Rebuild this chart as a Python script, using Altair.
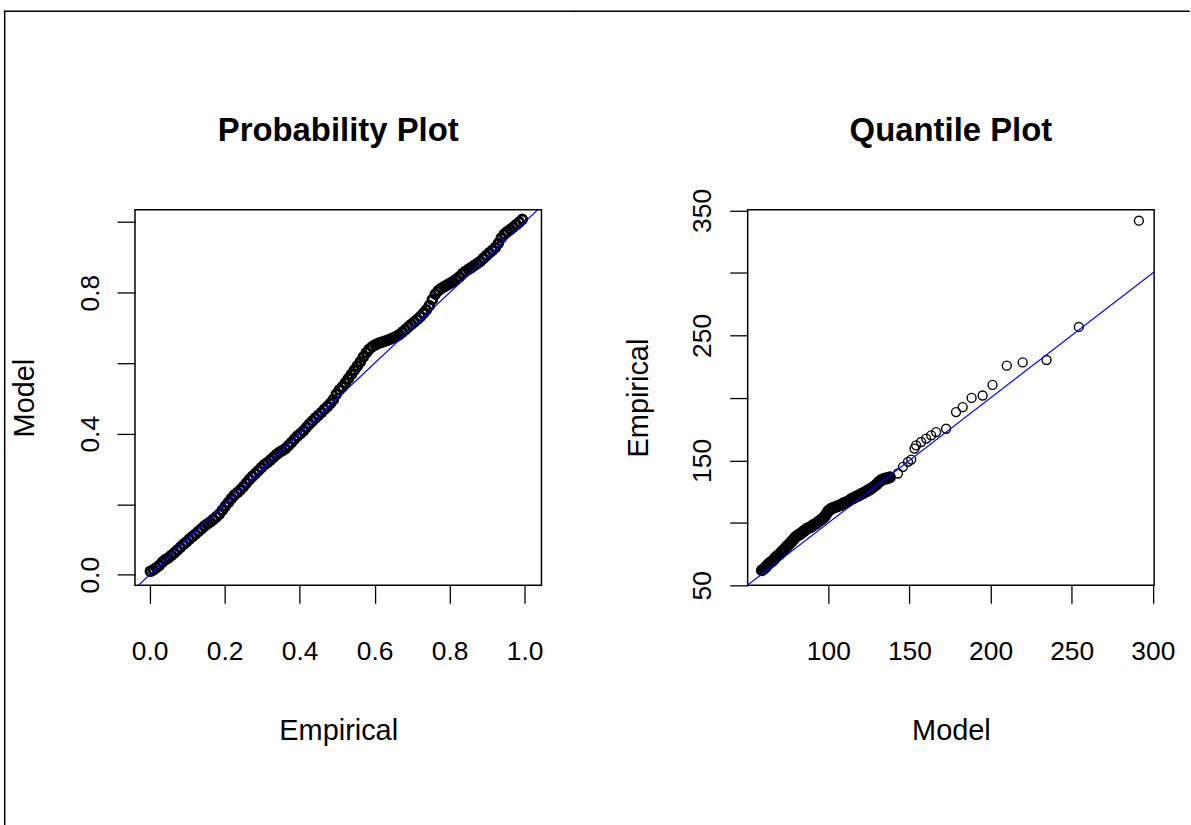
import altair as alt
import pandas as pd

# ---------------- Probability plot (left) ----------------
pp_empirical = [
    0.002, 0.010, 0.018, 0.026, 0.034, 0.042, 0.050, 0.058, 0.066, 0.074,
    0.082, 0.090, 0.098, 0.106, 0.114, 0.122, 0.130, 0.138, 0.146, 0.154,
    0.162, 0.170, 0.178, 0.186, 0.194, 0.202, 0.210, 0.218, 0.226, 0.234,
    0.242, 0.250, 0.258, 0.266, 0.274, 0.282, 0.290, 0.298, 0.306, 0.314,
    0.322, 0.330, 0.338, 0.346, 0.354, 0.362, 0.370, 0.378, 0.386, 0.394,
    0.402, 0.410, 0.418, 0.426, 0.434, 0.442, 0.450, 0.458, 0.466, 0.474,
    0.482, 0.490, 0.498, 0.506, 0.514, 0.522, 0.530, 0.538, 0.546, 0.554,
    0.562, 0.570, 0.578, 0.586, 0.594, 0.602, 0.610, 0.618, 0.626, 0.634,
    0.642, 0.650, 0.658, 0.666, 0.674, 0.682, 0.690, 0.698, 0.706, 0.714,
    0.722, 0.730, 0.738, 0.746, 0.754, 0.762, 0.770, 0.778, 0.786, 0.794,
    0.802, 0.810, 0.818, 0.826, 0.834, 0.842, 0.850, 0.858, 0.866, 0.874,
    0.882, 0.890, 0.898, 0.906, 0.914, 0.922, 0.930, 0.938, 0.946, 0.954,
    0.962, 0.970, 0.978, 0.986, 0.994,
]
pp_model = [
    0.010, 0.014, 0.020, 0.027, 0.036, 0.043, 0.048, 0.055, 0.062, 0.070,
    0.078, 0.086, 0.093, 0.101, 0.108, 0.115, 0.123, 0.130, 0.138, 0.144,
    0.150, 0.157, 0.164, 0.172, 0.183, 0.195, 0.205, 0.216, 0.226, 0.233,
    0.241, 0.250, 0.260, 0.270, 0.279, 0.287, 0.295, 0.304, 0.312, 0.318,
    0.325, 0.333, 0.341, 0.347, 0.352, 0.358, 0.366, 0.375, 0.384, 0.393,
    0.400, 0.408, 0.418, 0.427, 0.436, 0.444, 0.452, 0.460, 0.469, 0.477,
    0.486, 0.497, 0.512, 0.524, 0.533, 0.544, 0.556, 0.568, 0.580, 0.592,
    0.604, 0.618, 0.630, 0.640, 0.647, 0.652, 0.656, 0.659, 0.662, 0.665,
    0.668, 0.672, 0.676, 0.681, 0.688, 0.695, 0.703, 0.710, 0.717, 0.724,
    0.732, 0.741, 0.751, 0.763, 0.780, 0.796, 0.806, 0.812, 0.817, 0.822,
    0.827, 0.832, 0.838, 0.845, 0.853, 0.860, 0.866, 0.871, 0.877, 0.883,
    0.889, 0.897, 0.905, 0.913, 0.920, 0.928, 0.940, 0.955, 0.966, 0.973,
    0.979, 0.986, 0.993, 1.000, 1.008,
]
pp_line = [-0.1, 1.1]
pp_ticks = [0.0, 0.2, 0.4, 0.6, 0.8, 1.0]
pp_y_labelled = [0.0, 0.4, 0.8]

# ---------------- Quantile plot (right) ----------------
qq_model_dense = [
    59, 60, 61, 62, 63, 64, 65, 66, 67, 68, 69, 70, 71, 72, 73, 74, 75, 76, 77, 78,
    79, 80, 81, 82, 83, 84, 85, 86, 87, 88, 89, 90, 91, 92, 93, 94, 95, 96, 97, 98,
    99, 100, 101, 102, 103, 104, 105, 106, 107, 108, 109, 110, 111, 112, 113, 114,
    115, 116, 117, 118, 119, 120, 121, 122, 123, 124, 125, 126, 127, 128, 129, 130,
    131, 132, 133, 134, 135, 136, 137, 138,
]
qq_empirical_dense = [
    62, 63, 64, 65.5, 67, 68, 69, 70, 71.5, 73, 74, 75, 76.5, 78, 79, 80.5, 82, 83, 84.5, 86,
    87.5, 89, 90, 90.5, 91.5, 92.5, 93.5, 94.5, 95.5, 96, 96.5, 97.5, 98.5, 99, 100, 101, 102, 103, 104, 105.5,
    107.5, 109.5, 110.5, 111.5, 112, 112.5, 113, 113.5, 114, 114.5, 115.5, 116, 116.5, 117, 118, 119,
    119.5, 120, 121, 121.5, 122, 123, 123.5, 124, 125, 125.5, 126.5, 127, 128, 129, 130, 131,
    132.5, 133.5, 134.5, 135, 135.5, 135.5, 136, 136.5,
]
qq_model_tail = [
    142.9, 146.0, 149.1, 151.1, 153.1, 154.1, 157.2, 160.3, 163.4, 166.4,
    172.6, 178.7, 182.8, 188.3, 195.1, 201.2, 210.0, 219.8, 234.5, 254.4, 291.4,
]
qq_empirical_tail = [
    139.5, 144.8, 148.8, 150.6, 159.4, 162.0, 164.7, 167.4, 170.0, 172.6,
    175.3, 188.6, 192.6, 200.0, 201.9, 210.4, 225.8, 228.4, 230.3, 256.8, 341.8,
]
qq_line = [0, 400]
qq_x_ticks = [100, 150, 200, 250, 300]
qq_y_ticks = [50, 100, 150, 200, 250, 300, 350]
qq_y_labelled = [50, 150, 250, 350]

titles = ["Probability Plot", "Quantile Plot"]

FONT = "Liberation Sans"
W, H = 408, 377

pp_df = pd.DataFrame({"Empirical": pp_empirical, "Model": pp_model})
pp_line_df = pd.DataFrame({"a": pp_line, "b": pp_line})
qq_dense_df = pd.DataFrame({"Model": qq_model_dense, "Empirical": qq_empirical_dense})
qq_tail_df = pd.DataFrame({"Model": qq_model_tail, "Empirical": qq_empirical_tail})
qq_line_df = pd.DataFrame({"a": qq_line, "b": qq_line})
one = pd.DataFrame({"k": [0]})


def label_expr(vals, fmt):
    cond = " || ".join(f"abs(datum.value - {v}) < 1e-6" for v in vals)
    return f"({cond}) ? format(datum.value, '{fmt}') : ''"


def x_axis(title, ticks, fmt):
    return alt.Axis(
        title=title, values=ticks, format=fmt, domain=False, grid=False,
        tickSize=18, tickWidth=1.3, tickColor="black",
        labelFont=FONT, labelFontSize=26.5, labelColor="black", labelPadding=35,
        labelOverlap=False, labelFlush=False,
        titleFont=FONT, titleFontSize=29, titleFontWeight="normal", titleColor="black",
        titleX=W / 2, titleY=155, titleBaseline="alphabetic", titleAlign="center",
    )


def y_axis(title, ticks, labelled, fmt, title_x):
    return alt.Axis(
        title=title, values=ticks, labelExpr=label_expr(labelled, fmt), domain=False, grid=False,
        tickSize=18, tickWidth=1.3, tickColor="black",
        labelFont=FONT, labelFontSize=26.5, labelColor="black", labelPadding=19,
        labelAngle=270, labelAlign="center", labelBaseline="alphabetic",
        labelOverlap=False, labelFlush=False,
        titleFont=FONT, titleFontSize=29, titleFontWeight="normal", titleColor="black",
        titleAngle=270, titleX=title_x, titleY=H / 2, titleBaseline="alphabetic", titleAlign="center",
    )


def points(df, xcol, ycol, xdom, ydom, xax, yax, sw, size):
    return alt.Chart(df).mark_point(
        shape="circle", filled=False, size=size, stroke="black", strokeWidth=sw, opacity=1
    ).encode(
        x=alt.X(f"{xcol}:Q", scale=alt.Scale(domain=xdom, nice=False, zero=False), axis=xax),
        y=alt.Y(f"{ycol}:Q", scale=alt.Scale(domain=ydom, nice=False, zero=False), axis=yax),
    )


def refline(df):
    return alt.Chart(df).mark_line(color="#0000ff", strokeWidth=1.2, clip=True).encode(
        x="a:Q", y="b:Q"
    )


def hrule(x1, x2, y):
    return alt.Chart(one).mark_rule(color="black", strokeWidth=1.5, strokeCap="square").encode(
        x=alt.value(x1), x2=alt.value(x2), y=alt.value(y)
    )


def vrule(x, y1, y2):
    return alt.Chart(one).mark_rule(color="black", strokeWidth=1.5, strokeCap="square").encode(
        x=alt.value(x), y=alt.value(y1), y2=alt.value(y2)
    )


def title_text(text):
    return alt.Chart(one).mark_text(
        font=FONT, fontSize=33, fontWeight="bold", color="black",
        align="center", baseline="alphabetic",
    ).encode(x=alt.value(W / 2), y=alt.value(-69), text=alt.value(text))


QX = [50.3, 300.8]
QY = [50, 350.5]
q_xax = x_axis("Model", qq_x_ticks, "d")
q_yax = y_axis("Empirical", qq_y_ticks, qq_y_labelled, "d", -101)

left = alt.layer(
    points(pp_df, "Empirical", "Model", [-0.039, 1.045], [-0.030, 1.035],
           x_axis("Empirical", pp_ticks, ".1f"),
           y_axis("Model", pp_ticks, pp_y_labelled, ".1f", -102), 3.0, 76),
    refline(pp_line_df),
    title_text(titles[0]),
    hrule(-130.8, 441, -199.3),
    vrule(-130.8, -199.3, 618),
).properties(width=W, height=H)

right = alt.layer(
    points(qq_dense_df, "Model", "Empirical", QX, QY, q_xax, q_yax, 3.0, 80),
    points(qq_tail_df, "Model", "Empirical", QX, QY, q_xax, q_yax, 1.4, 80),
    refline(qq_line_df),
    title_text(titles[1]),
    hrule(-173.5, 443, -199.3),
).properties(width=W, height=H)

chart = alt.hconcat(left, right, spacing=-4).properties(
    padding={"left": 2.5, "top": 7, "right": 0, "bottom": 0},
    background="white",
).configure_view(stroke="black", strokeWidth=1.5)

chart.save("out.html", embed_options={"renderer": "svg", "actions": False})
